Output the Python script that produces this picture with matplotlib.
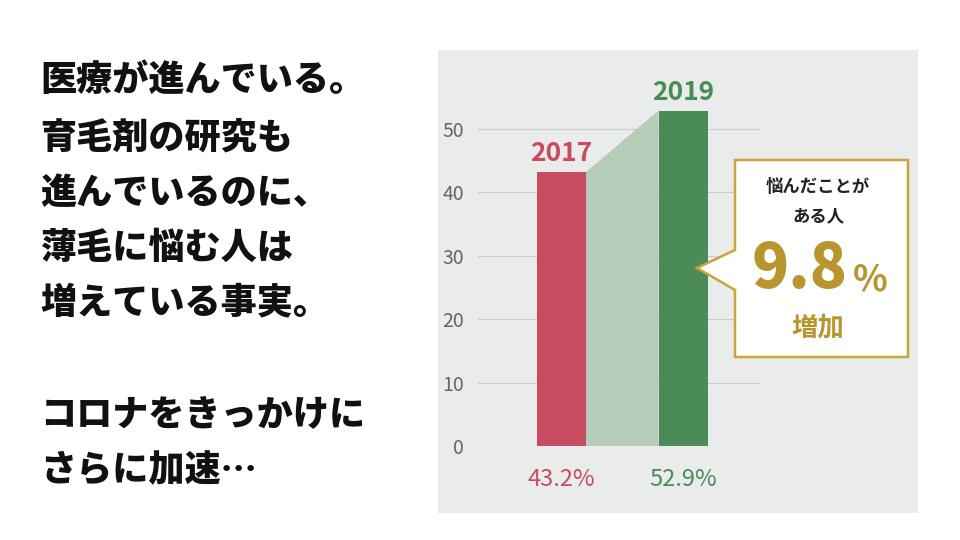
import matplotlib.pyplot as plt
from matplotlib.patches import Rectangle, Polygon

plt.rcParams['font.family'] = ['Noto Sans CJK JP', 'DejaVu Sans']

years = ['2017', '2019']
values = [43.2, 52.9]
labels = ['43.2%', '52.9%']
colors = ['#c94b5f', '#4b8b57']
yticks = [0, 10, 20, 30, 40, 50]
left_lines = ['医療が進んでいる。', '育毛剤の研究も', '進んでいるのに、', '薄毛に悩む人は',
              '増えている事実。', '', 'コロナをきっかけに', 'さらに加速…']
line_y = [80, 138, 193, 248, 302, 357, 415, 470]

W, H = 960, 540
fig = plt.figure(figsize=(9.6, 5.4), dpi=100)
fig.patch.set_facecolor('white')

def fx(x): return x / W
def fy(y): return 1 - y / H

# gray panel
fig.patches.append(Rectangle((fx(438), fy(513)), fx(480), 463 / H, transform=fig.transFigure,
                             facecolor='#e9ecea', edgecolor='none', zorder=-2))

for t, y in zip(left_lines, line_y):
    fig.text(fx(40), fy(y), t, fontsize=26, fontweight='black', va='center', ha='left', color='#111111')

ax = fig.add_axes([fx(478), fy(446), fx(282), 380.4 / H])
ax.set_zorder(2)
ax.set_facecolor('none')
ax.set_xlim(0, 282)
ax.set_ylim(0, 60)
xc = [83.5, 205]
bw = 49
# connecting band
ax.add_patch(Polygon([(xc[0] + bw / 2, 0), (xc[0] + bw / 2, values[0]),
                      (xc[1] - bw / 2, values[1]), (xc[1] - bw / 2, 0)],
                     closed=True, facecolor='#b5cdb8', edgecolor='none', zorder=1))
ax.bar(xc, values, width=bw, color=colors, zorder=2)
for y in yticks:
    ax.axhline(y, color='#c8ccc9', lw=0.8, zorder=0.5)
for x, v, yr, lab, c in zip(xc, values, years, labels, colors):
    ax.text(x, v + 0.8, yr, color=c, fontsize=19, fontweight='bold', ha='center', va='bottom')
    ax.text(x, -5.3, lab, color=c, fontsize=17, ha='center', va='center')
ax.set_yticks(yticks)
ax.set_xticks([])
ax.tick_params(axis='y', length=0, labelsize=14, labelcolor='#666666', pad=10)
for s in ax.spines.values():
    s.set_visible(False)
ax.set_ylim(0, 60)

# callout box
gold = '#c9a43a'
pts = [(735, 160), (908, 160), (908, 357), (735, 357), (735, 290), (697, 268), (735, 250)]
fig.patches.append(Polygon([(fx(x), fy(y)) for x, y in pts], closed=True, transform=fig.transFigure,
                           facecolor='white', edgecolor=gold, lw=1.8, zorder=5))
cx = fx(818)
fig.text(cx, fy(187), '悩んだことが', fontsize=12.5, fontweight='bold', ha='center', va='center', color='#222222', zorder=6)
fig.text(cx, fy(216), 'ある人', fontsize=12.5, fontweight='bold', ha='center', va='center', color='#222222', zorder=6)
fig.text(fx(800), fy(270), '9.8', fontsize=44, fontweight='black', ha='center', va='center', color='#b8952e', zorder=6)
fig.text(fx(870), fy(280), '%', fontsize=26, fontweight='bold', ha='center', va='center', color='#b8952e', zorder=6)
fig.text(cx, fy(328), '増加', fontsize=19, fontweight='bold', ha='center', va='center', color='#b8952e', zorder=6)

fig.savefig('out.png', dpi=100)
